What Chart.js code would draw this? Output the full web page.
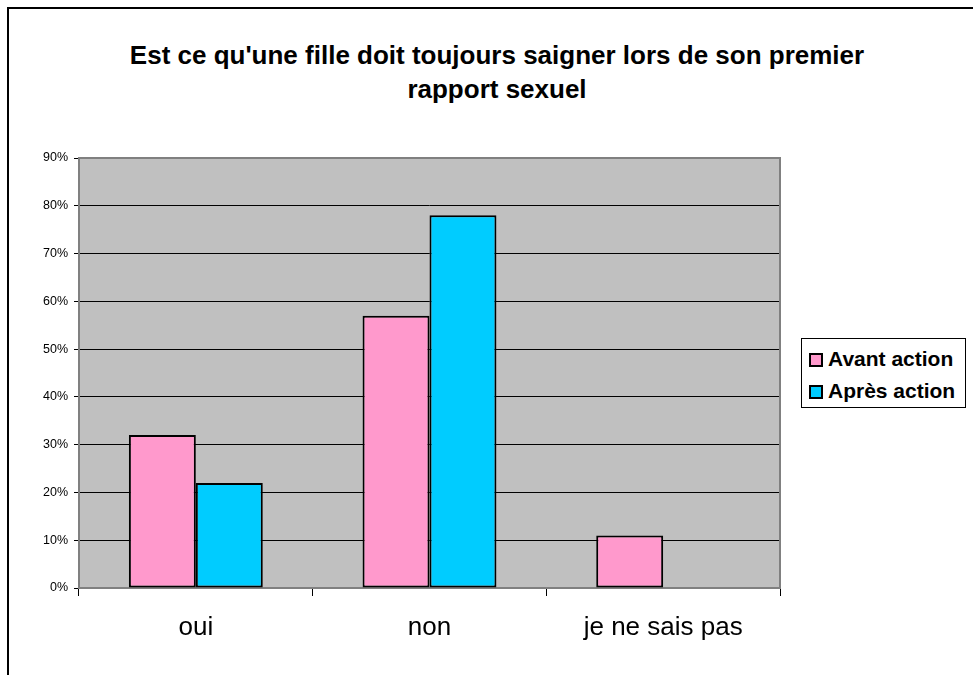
<!DOCTYPE html>
<html lang="fr">

<head>
    <meta charset="UTF-8">
    <title>Saignement premier rapport</title>
    <style>
        html, body {
            margin: 0;
            padding: 0;
            background: #fff;
            overflow: hidden;
        }

        .frame {
            position: absolute;
            left: 0;
            top: 0;
            width: 973px;
            height: 675px;
        }

        /* cadre extérieur (seulement gauche et haut visibles) */
        .outline {
            position: absolute;
            left: 7px;
            top: 7px;
            width: 1000px;
            height: 700px;
            border-left: 2px solid #000;
            border-top: 2px solid #000;
        }

        .title {
            position: absolute;
            left: 0;
            top: 38px;
            width: 994px;
            text-align: center;
            font: bold 26px "Liberation Sans", Arial, sans-serif;
            line-height: 34px;
            color: #000;
        }

        #myChart {
            position: absolute;
            left: 0;
            top: 0;
        }

        .legend {
            position: absolute;
            left: 801px;
            top: 338px;
            width: 163px;
            height: 68px;
            border: 1px solid #000;
            background: #fff;
            font: bold 21px "Liberation Sans", Arial, sans-serif;
            color: #000;
        }

        .legend-item {
            position: absolute;
            left: 7px;
            height: 20px;
            line-height: 20px;
            white-space: nowrap;
        }

        .legend-box {
            display: inline-block;
            width: 10px;
            height: 10px;
            border: 2px solid #000;
            vertical-align: -1px;
            margin-right: 5px;
        }
    </style>
</head>

<body>
    <div class="frame">
        <div class="outline"></div>
        <div class="title">Est ce qu'une fille doit toujours saigner lors de son premier<br>rapport sexuel</div>
        <canvas id="myChart" width="973" height="675"></canvas>
        <div class="legend" id="legend"></div>
    </div>

    <script src="https://cdn.jsdelivr.net/npm/chart.js"></script>
    <script>
        // données
        const categories = ['oui', 'non', 'je ne sais pas'];
        const seriesNames = ['Avant action', 'Après action'];
        const avantAction = [32, 57, 11];
        const apresAction = [22, 78, 0];
        const yTicks = [0, 10, 20, 30, 40, 50, 60, 70, 80, 90];

        const colors = ['#FF99CC', '#00CCFF'];

        // fond gris + bordure de la zone de tracé
        const plotArea = {
            id: 'plotArea',
            beforeDraw(chart) {
                const { ctx, chartArea: a } = chart;
                ctx.save();
                ctx.fillStyle = '#C0C0C0';
                ctx.fillRect(a.left, a.top, a.right - a.left, a.bottom - a.top);
                ctx.restore();
            },
            beforeDatasetsDraw(chart) {
                const { ctx, chartArea: a } = chart;
                ctx.save();
                ctx.strokeStyle = '#808080';
                ctx.lineWidth = 2;
                ctx.strokeRect(a.left, a.top, a.right - a.left, a.bottom - a.top);
                ctx.restore();
            }
        };

        const ctx = document.getElementById('myChart').getContext('2d');

        const myChart = new Chart(ctx, {
            type: 'bar',
            data: {
                labels: categories,
                datasets: [{
                    label: seriesNames[0],
                    data: avantAction,
                    backgroundColor: colors[0],
                    borderColor: '#000',
                    borderWidth: 2,
                    borderSkipped: false
                }, {
                    label: seriesNames[1],
                    data: apresAction,
                    backgroundColor: colors[1],
                    borderColor: '#000',
                    borderWidth: 2,
                    borderSkipped: false
                }]
            },
            options: {
                responsive: false,
                animation: false,
                datasets: {
                    bar: {
                        categoryPercentage: 0.573,
                        barPercentage: 1
                    }
                },
                layout: {
                    padding: { left: 0, top: 158, right: 193, bottom: 27 }
                },
                scales: {
                    x: {
                        grid: {
                            display: true,
                            drawOnChartArea: false,
                            tickLength: 8,
                            tickColor: '#000',
                            tickWidth: 1
                        },
                        border: { display: false },
                        ticks: {
                            color: '#000',
                            padding: 16,
                            font: { family: '"Liberation Sans", Arial', size: 26 }
                        },
                        afterFit(scale) {
                            scale.height = 60;
                        }
                    },
                    y: {
                        min: 0,
                        max: 90,
                        afterBuildTicks(scale) {
                            scale.ticks = yTicks.map(v => ({ value: v }));
                        },
                        grid: {
                            color: '#000',
                            lineWidth: 1,
                            tickLength: 5,
                            tickColor: '#000'
                        },
                        border: { display: false },
                        ticks: {
                            color: '#000',
                            padding: 6,
                            font: { family: '"Liberation Sans", Arial', size: 12.5 },
                            callback: v => v + '%'
                        },
                        afterFit(scale) {
                            scale.width = 79;
                        }
                    }
                },
                plugins: {
                    legend: { display: false },
                    title: { display: false },
                    tooltip: { enabled: false }
                }
            },
            plugins: [plotArea]
        });

        // légende
        const legend = document.getElementById('legend');
        const rowTops = [10, 42];
        myChart.data.datasets.forEach((ds, i) => {
            const item = document.createElement('div');
            item.className = 'legend-item';
            item.style.top = rowTops[i] + 'px';
            item.innerHTML = `<span class="legend-box" style="background:${ds.backgroundColor}"></span>${ds.label}`;
            legend.appendChild(item);
        });
    </script>
</body>

</html>
